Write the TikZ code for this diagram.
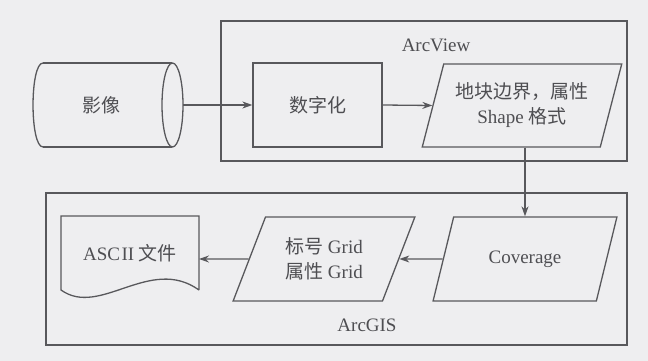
\documentclass[tikz,border=0pt]{standalone}
\usepackage{fontspec}
\setmainfont{Liberation Serif}
\newfontfamily\cjk{Noto Sans CJK SC}
\usetikzlibrary{shapes.geometric,arrows.meta}
\definecolor{bg}{RGB}{238,238,240}
\definecolor{ln}{RGB}{88,88,92}
\definecolor{tx}{RGB}{78,78,82}
\tikzset{
  every node/.style={text=tx, font=\fontsize{19}{25}\selectfont, inner sep=3pt},
  frame/.style={draw=ln, line width=1.3pt, minimum width=#1},
  stepbox/.style={draw=ln, line width=1.3pt, minimum width=129pt, minimum height=84pt},
  para/.style={trapezium, trapezium stretches=true, draw=ln, line width=1.3pt, align=center},
  conn/.style={draw=ln, line width=1.3pt, -{Stealth[length=10pt,width=7pt]}},
  outline/.style={draw=ln, line width=1.3pt}
}
\begin{document}
\begin{tikzpicture}[x=1pt,y=-1pt]
\fill[bg] (0,0) rectangle (648,361);
\useasboundingbox (0,0) rectangle (648,361);
% frames
\node[frame=406pt, minimum height=140pt] (av) at (424,91) {};
\node[frame=581pt, minimum height=152pt] (ag) at (336.5,269) {};
\node (avl) at (436,45) {ArcView};
\node (agl) at (367,325) {ArcGIS};
% cylinder
\node (img) at (101,105) {{\cjk 影像}};
\draw[outline] (43,63) -- (172,63);
\draw[outline] (43,147) -- (172,147);
\draw[outline] (43,63) .. controls (29.7,63) and (29.7,147) .. (43,147);
\draw[outline] (172.5,105) ellipse [x radius=10.5, y radius=42];
\coordinate (imgR) at (183,105);
% digitize
\node[stepbox] (dig) at (317.5,105) {{\cjk 数字化}};
% parallelograms
\node[para, trapezium left angle=69.5, trapezium right angle=110.5, minimum width=200pt, minimum height=83pt] (p1) at (522,105.5) {{\cjk 地块边界，属性}\\Shape {\cjk 格式}};
\node[para, trapezium left angle=63.4, trapezium right angle=116.6, minimum width=184pt, minimum height=84pt] (cov) at (525,259) {Coverage};
\node[para, trapezium left angle=64.5, trapezium right angle=115.5, minimum width=182pt, minimum height=84pt] (grid) at (324,259) {{\cjk 标号} Grid\\{\cjk 属性} Grid};
% document
\node (doc) at (130,253) {ASC\kern1.5pt II {\cjk 文件}};
\draw[outline] (199,290) -- (199,216) -- (61,216) -- (61,290) .. controls (100,318) and (150,255) .. (199,290);
\coordinate (docR) at (199,259);
% connectors
\draw[conn] (imgR) -- (dig.west);
\draw[conn] (dig.east) -- (p1.west);
\draw[conn] (cov.north |- p1.south) -- (cov.north);
\draw[conn] (cov.west) -- (grid.east);
\draw[conn] (grid.west) -- (docR);
\end{tikzpicture}
\end{document}
